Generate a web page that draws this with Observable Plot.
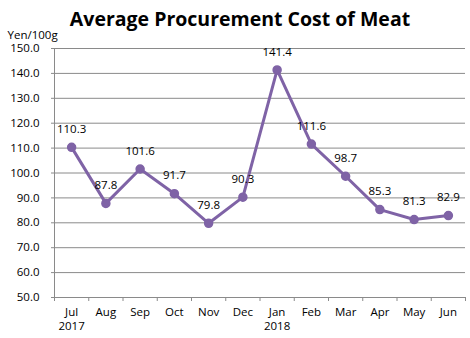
<!DOCTYPE html>
<html><head><meta charset="utf-8">
<script src="https://cdn.jsdelivr.net/npm/d3@7"></script>
<script src="https://cdn.jsdelivr.net/npm/@observablehq/plot@0.6"></script>
<style>
html,body{margin:0;padding:0;background:#fff;}
#chart svg{display:block;}
</style>
</head><body>
<div id="chart"></div>
<script>
const months = ["Jul","Aug","Sep","Oct","Nov","Dec","Jan","Feb","Mar","Apr","May","Jun"];
const years = ["2017","","","","","","2018","","","","",""];
const values = [110.3, 87.8, 101.6, 91.7, 79.8, 90.3, 141.4, 111.6, 98.7, 85.3, 81.3, 82.9];
const yTicks = [50,60,70,80,90,100,110,120,130,140,150];
const title = "Average Procurement Cost of Meat";
const yLabel = "Yen/100g";

const data = months.map((m, i) => ({i, month: m, year: years[i], value: values[i]}));
const bounds = d3.range(months.length + 1).map(i => i - 0.5);
const purple = "#7F63A6";
const font = "'Open Sans', sans-serif";

const chart = Plot.plot({
  width: 470,
  height: 338,
  marginLeft: 54,
  marginRight: 5,
  marginTop: 48,
  marginBottom: 41,
  style: {fontFamily: font, fontSize: "11px", color: "#000", background: "#fff"},
  x: {type: "linear", domain: [-0.5, months.length - 0.5]},
  y: {domain: [50, 150]},
  marks: [
    Plot.gridY(yTicks, {stroke: "#8a8a8a", strokeOpacity: 1}),
    Plot.axisY(yTicks, {tickSize: 3, tickPadding: 12, tickFormat: d => d.toFixed(1), stroke: "#8a8a8a", fill: "#000", fontSize: 11.5, label: null}),
    Plot.frame({anchor: "left", stroke: "#8a8a8a"}),
    Plot.frame({anchor: "bottom", stroke: "#8a8a8a"}),
    Plot.axisX(bounds, {tickSize: 4, tickFormat: () => "", stroke: "#8a8a8a", label: null}),
    Plot.axisX(d3.range(months.length), {tickSize: 0, tickPadding: 10, tickFormat: i => months[i], fill: "#000", fontSize: 11.5, label: null}),
    Plot.text(data.filter(d => d.year), {x: "i", text: "year", frameAnchor: "bottom", dy: 32, fill: "#000", fontSize: 11.5}),
    Plot.line(data, {x: "i", y: "value", stroke: purple, strokeWidth: 3}),
    Plot.dot(data, {x: "i", y: "value", r: 4, fill: purple, stroke: purple}),
    Plot.text(data, {x: "i", y: "value", text: d => d.value.toFixed(1), dy: -18, fill: "#000", fontSize: 11.5}),
    Plot.text([yLabel], {frameAnchor: "top-left", text: d => d, dx: -47, dy: -18, textAnchor: "start", fill: "#000", fontSize: 11.5}),
    Plot.text([title], {frameAnchor: "top", text: d => d, dy: -36, dx: -20, fill: "#000", fontSize: 19.5, fontWeight: "bold"})
  ]
});
document.getElementById("chart").appendChild(chart);
</script>
</body></html>
